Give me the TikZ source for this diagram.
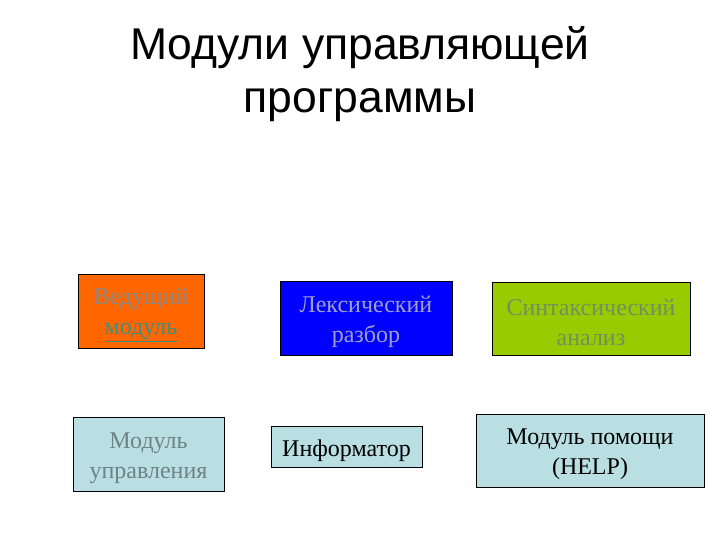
\documentclass[tikz,border=0pt]{standalone}
\usepackage{fontspec}
\setmainfont{Liberation Serif}
\newfontfamily\titlefont{Liberation Sans}
\usetikzlibrary{positioning}
\definecolor{leadFill}{HTML}{FF6600}
\definecolor{lexFill}{HTML}{0000FF}
\definecolor{synFill}{HTML}{99CC00}
\definecolor{auxFill}{HTML}{B9DFE3}
\definecolor{leadText}{HTML}{888888}
\definecolor{leadLink}{HTML}{3F8F80}
\definecolor{lexText}{HTML}{A0A0C8}
\definecolor{synText}{HTML}{6F9060}
\definecolor{ctrlText}{HTML}{6F8285}
\begin{document}
\begin{tikzpicture}[x=1pt,y=-1pt,
  modbox/.style={rectangle,draw=black,line width=1pt,inner sep=0pt},
  boxtext/.style={font=\fontsize{24}{30}\selectfont,align=center,inner sep=0pt,yshift=-4pt},
  title/.style={font=\titlefont\fontsize{44.5}{53}\selectfont,align=center}
]
\useasboundingbox (0,0) rectangle (720,540);
% slide title
\node[title] (head) at (360,74) {Модули управляющей\\программы};
% upper row
\node[modbox,fill=leadFill,minimum width=126pt,minimum height=74pt,
  label={[boxtext,text=leadText]center:{Ведущий\\{\color{leadLink}\underline{модуль}}}}] (lead) at (141,311) {};
\node[modbox,fill=lexFill,minimum width=172pt,minimum height=74pt,
  label={[boxtext,text=lexText]center:{Лексический\\разбор}}] (lex) at (366,318) {};
\node[modbox,fill=synFill,minimum width=198pt,minimum height=73pt,
  label={[boxtext,text=synText]center:{Синтаксический\\анализ}}] (syn) at (591,318.5) {};
% lower row
\node[modbox,fill=auxFill,minimum width=151pt,minimum height=74pt,
  label={[boxtext,text=ctrlText]center:{Модуль\\управления}}] (ctrl) at (148.5,454) {};
\node[modbox,fill=auxFill,minimum width=151pt,minimum height=41pt,
  label={[boxtext]center:{Информатор}}] (info) at (346.5,446.5) {};
\node[modbox,fill=auxFill,minimum width=228pt,minimum height=73pt,
  label={[boxtext]center:{Модуль помощи\\(HELP)}}] (help) at (590,450.5) {};
\end{tikzpicture}
\end{document}
